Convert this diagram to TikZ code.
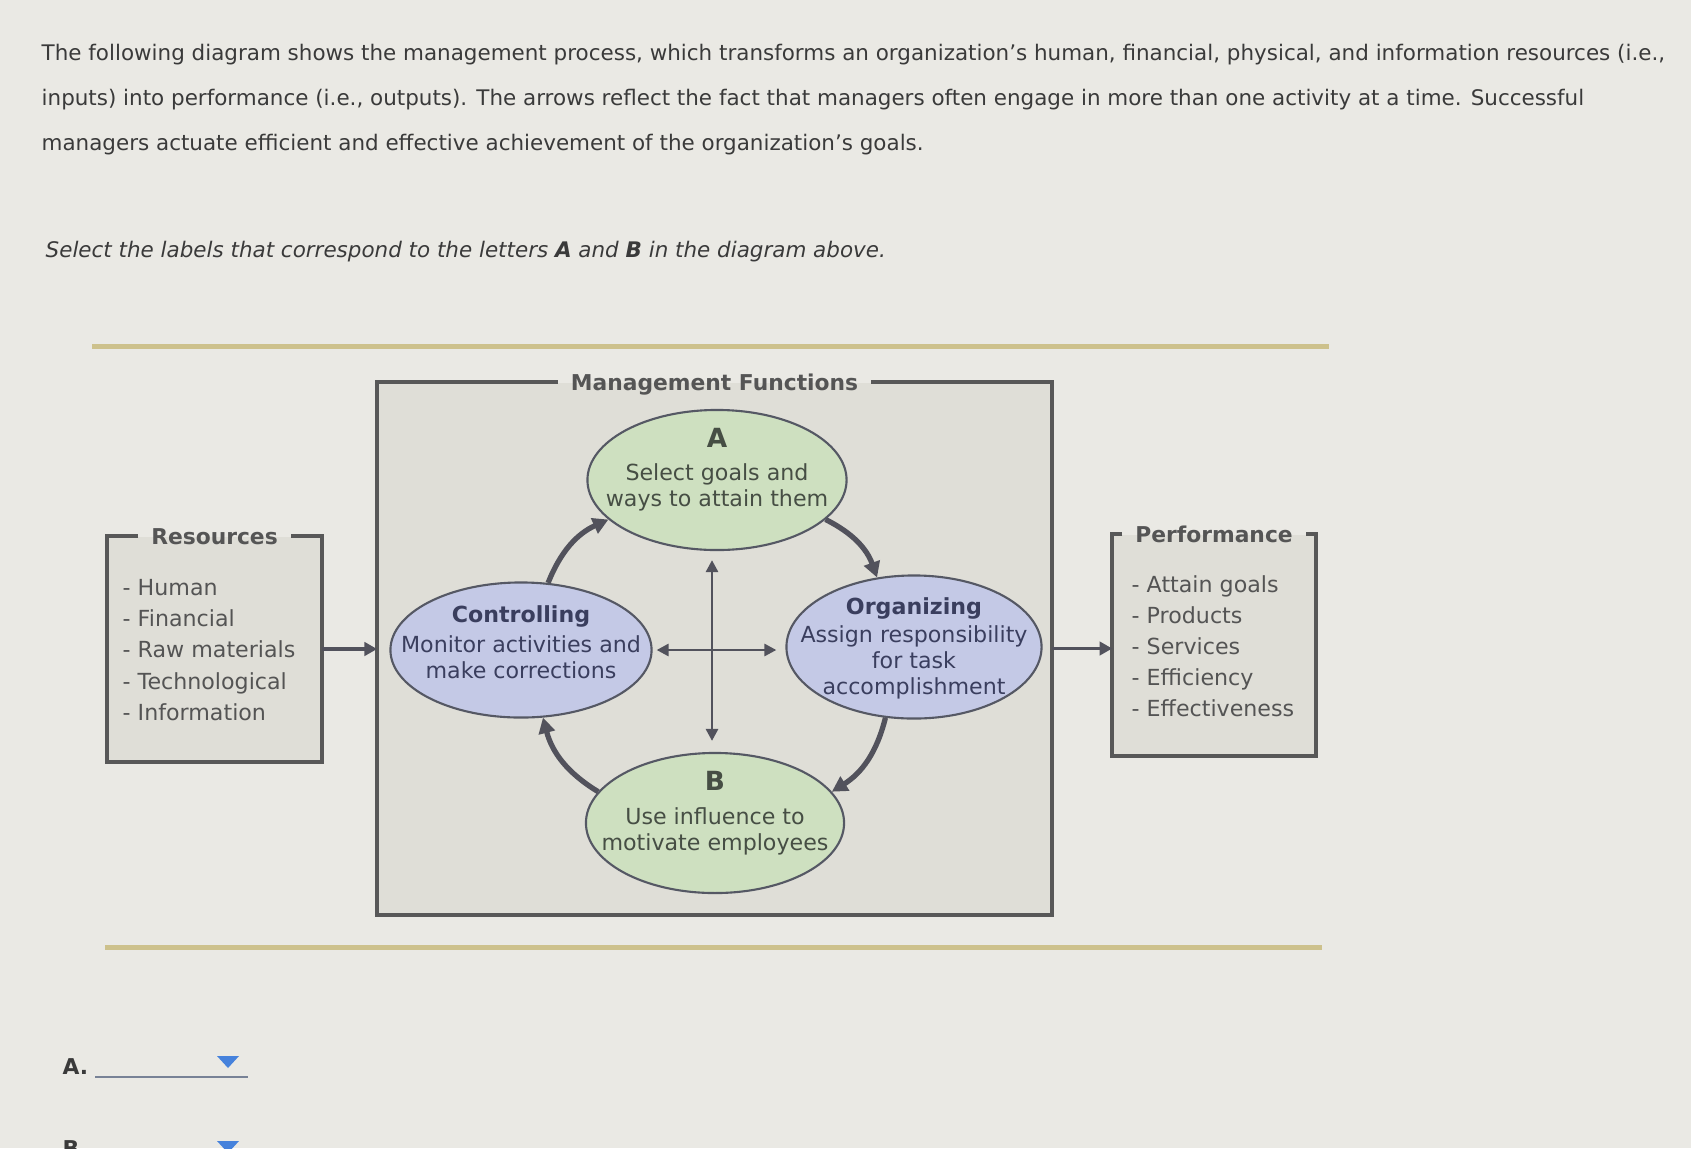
\documentclass[tikz,border=0pt]{standalone}
\usepackage{fontspec}
\setmainfont{DejaVu Sans}
\usetikzlibrary{arrows.meta,positioning,shapes.geometric}

\definecolor{pagebg}{RGB}{234,233,228}
\definecolor{boxbg}{RGB}{223,222,215}
\definecolor{tanline}{RGB}{205,193,140}
\definecolor{framegray}{RGB}{88,88,88}
\definecolor{titlegray}{RGB}{85,85,85}
\definecolor{qgray}{RGB}{58,58,58}
\definecolor{itemgray}{RGB}{84,84,84}
\definecolor{leafgreen}{RGB}{206,224,192}
\definecolor{lavender}{RGB}{196,201,230}
\definecolor{ellline}{RGB}{85,88,100}
\definecolor{arrowgray}{RGB}{82,82,92}
\definecolor{bluetext}{RGB}{58,62,94}
\definecolor{greentext}{RGB}{70,78,68}
\definecolor{dropblue}{RGB}{70,130,220}
\definecolor{lineblue}{RGB}{120,130,150}

\begin{document}
\begin{tikzpicture}[x=0.01cm,y=-0.01cm,
  qtext/.style={anchor=base west,inner sep=0,text=qgray,font=\fontsize{6.1}{7}\selectfont},
  ttl/.style={inner xsep=3.5pt,inner ysep=0,text depth=0pt,text=titlegray,font=\bfseries\fontsize{6.2}{7}\selectfont},
  panel/.style={fill=boxbg,inner sep=0},
  boxline/.style={draw=framegray,line width=1.1pt},
  listitem/.style={anchor=base west,inner sep=0,text=itemgray,font=\fontsize{6.3}{7}\selectfont},
  ell/.style={ellipse,draw=ellline,line width=0.6pt,inner sep=0},
  etext/.style={anchor=north,align=center,inner sep=0,font=\fontsize{6.3}{7.4}\selectfont},
  flow/.style={-{Triangle[length=3.6pt,width=3.8pt]},draw=arrowgray,line width=0.9pt},
  crossarr/.style={{Triangle[length=3.4pt,width=3.4pt]}-{Triangle[length=3.4pt,width=3.4pt]},draw=arrowgray,line width=0.8pt},
  roundarr/.style={-{Triangle[length=4.4pt,width=4.6pt]},draw=arrowgray,line width=1.5pt,bend left=22}]
\useasboundingbox (0,0) rectangle (1691,1148);
\fill[pagebg] (0,0) rectangle (1691,1148);

\node[qtext] (q1) at (41,60) {The following diagram shows the management process, which transforms an organization’s human, financial, physical, and information resources (i.e.,};
\node[qtext] (q2) at (41,105) {inputs) into performance (i.e., outputs). The arrows reflect the fact that managers often engage in more than one activity at a time. Successful};
\node[qtext] (q3) at (41,150) {managers actuate efficient and effective achievement of the organization’s goals.};
\node[qtext] (q4) at (45,257) {\itshape Select the labels that correspond to the letters \textbf{A} and \textbf{B} in the diagram above.};

\draw[tanline,line width=0.05cm] (92,346) -- (1329,346);
\draw[tanline,line width=0.05cm] (105,947) -- (1322,947);

\node[panel,minimum width=6.73cm,minimum height=5.31cm] (mgmt) at (714.5,648.5) {};
\node[ttl] (mf) at (mgmt.north) {Management Functions};
\draw[boxline] (mf.west) -| (mgmt.south west) -| (mgmt.north east) -- (mf.east);

\node[panel,minimum width=2.13cm,minimum height=2.24cm] (resbox) at (214.5,649) {};
\node[ttl] (res) at (resbox.north) {Resources};
\draw[boxline] (res.west) -| (resbox.south west) -| (resbox.north east) -- (res.east);
\foreach \t [count=\i] in {Human,Financial,Raw materials,Technological,Information}
  \node[listitem] (r\i) at (122,564+31.3*\i) {- \t};

\node[panel,minimum width=2.02cm,minimum height=2.20cm] (perfbox) at (1214,645) {};
\node[ttl] (perf) at (perfbox.north) {Performance};
\draw[boxline] (perf.west) -| (perfbox.south west) -| (perfbox.north east) -- (perf.east);
\foreach \t [count=\i] in {Attain goals,Products,Services,Efficiency,Effectiveness}
  \node[listitem] (p\i) at (1131,562+30.8*\i) {- \t};

\draw[flow] (resbox.east) -- (resbox.east -| mgmt.west);
\draw[flow] (mgmt.east) -- (mgmt.east -| perfbox.west);

\node[ell,fill=leafgreen,minimum width=2.59cm,minimum height=1.40cm] (A) at (717,480) {};
\node[ell,fill=lavender,minimum width=2.61cm,minimum height=1.35cm] (ctrl) at (521,650) {};
\node[ell,fill=lavender,minimum width=2.55cm,minimum height=1.43cm] (org) at (914,647) {};
\node[ell,fill=leafgreen,minimum width=2.58cm,minimum height=1.40cm] (B) at (715,823) {};

\node[etext,text=greentext] (Atext) at (717,428) {\textbf{\fontsize{7.5}{8}\selectfont A}\\[1.8pt] Select goals and\\ ways to attain them};
\node[etext,text=bluetext] (ctrltext) at (521,605) {\textbf{Controlling}\\[1pt] Monitor activities and\\ make corrections};
\node[etext,text=bluetext] (orgtext) at (914,597) {\textbf{Organizing}\\[0.5pt] Assign responsibility\\ for task\\ accomplishment};
\node[etext,text=greentext] (Btext) at (715,771) {\textbf{\fontsize{7.5}{8}\selectfont B}\\[2pt] Use influence to\\ motivate employees};

\draw[roundarr] (ctrl.68) to (A.200);
\draw[roundarr] (A.-20) to (org.118);
\draw[roundarr] (org.-112) to (B.15);
\draw[roundarr] (B.165) to (ctrl.-72);

\draw[crossarr,shorten <=0.09cm,shorten >=0.11cm] (A.south -| 712,0) -- (B.north -| 712,0);
\draw[crossarr,shorten <=0.04cm,shorten >=0.09cm] (ctrl.east) -- (ctrl.east -| org.west);

\node[anchor=base west,inner sep=0,text=qgray,font=\bfseries\fontsize{6.2}{7}\selectfont] (la) at (62,1074) {A.};
\draw[lineblue,line width=0.02cm] (95,1077) -- (248,1077);
\fill[dropblue] (217,1056) -- (239,1056) -- (228,1068) -- cycle;
\node[anchor=base west,inner sep=0,text=qgray,font=\bfseries\fontsize{6.2}{7}\selectfont] (lb) at (62,1156) {B.};
\fill[dropblue] (217,1141) -- (239,1141) -- (228,1153) -- cycle;
\end{tikzpicture}
\end{document}
